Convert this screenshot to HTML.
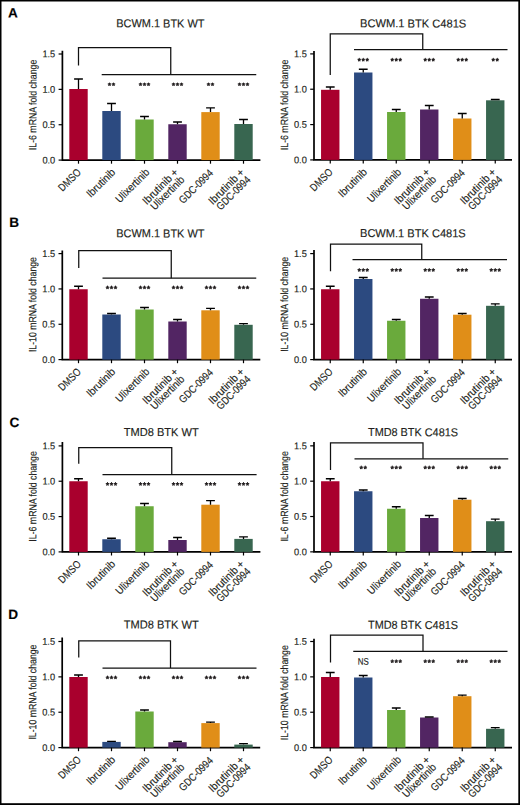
<!DOCTYPE html>
<html><head><meta charset="utf-8"><style>
html,body{margin:0;padding:0;background:#fff;}
body{width:520px;height:805px;overflow:hidden;position:relative;}
svg{position:absolute;left:0;top:0;font-family:"Liberation Sans", sans-serif;}
text{stroke:#231f20;stroke-width:0.15px;}
</style></head><body>
<svg width="520" height="805" viewBox="0 0 520 805">
<rect x="0" y="0" width="520" height="1.5" fill="#000"/><rect x="0" y="0" width="1.5" height="805" fill="#000"/><rect x="518.3" y="0" width="1.7" height="805" fill="#000"/><rect x="0" y="803.2" width="520" height="1.8" fill="#000"/>
<text transform="translate(8 17.6) rotate(0.1)" font-size="13.6" font-weight="bold" fill="#000">A</text>
<text transform="translate(116.25 27.3) rotate(0.1)" font-size="11.5" fill="#231f20" textLength="88.25" lengthAdjust="spacingAndGlyphs">BCWM.1 BTK WT</text>
<path d="M62.4 50.8V160.8M61.7 160.1H260.4" stroke="#000" stroke-width="1.7" fill="none"/>
<path d="M58.6 160.1H62.4" stroke="#000" stroke-width="1.2"/>
<text transform="translate(55.2 163.4) rotate(0.1)" font-size="9.7" fill="#231f20" text-anchor="end" textLength="12.8" lengthAdjust="spacingAndGlyphs">0.0</text>
<path d="M58.6 124.73H62.4" stroke="#000" stroke-width="1.2"/>
<text transform="translate(55.2 128.03) rotate(0.1)" font-size="9.7" fill="#231f20" text-anchor="end" textLength="12.8" lengthAdjust="spacingAndGlyphs">0.5</text>
<path d="M58.6 89.37H62.4" stroke="#000" stroke-width="1.2"/>
<text transform="translate(55.2 92.67) rotate(0.1)" font-size="9.7" fill="#231f20" text-anchor="end" textLength="12.8" lengthAdjust="spacingAndGlyphs">1.0</text>
<path d="M58.6 54H62.4" stroke="#000" stroke-width="1.2"/>
<text transform="translate(55.2 57.3) rotate(0.1)" font-size="9.7" fill="#231f20" text-anchor="end" textLength="12.8" lengthAdjust="spacingAndGlyphs">1.5</text>
<text transform="translate(36.4 104.95) rotate(-89.9)" x="0" y="0" font-size="10.5" fill="#231f20" text-anchor="middle" textLength="90.4" lengthAdjust="spacingAndGlyphs">IL-6 mRNA fold change</text>
<rect x="69.3" y="89" width="18.4" height="71.1" fill="#a9002d"/>
<path d="M78.5 89V79M74.1 79H82.9" stroke="#000" stroke-width="1.3" fill="none"/>
<path d="M78.5 160.1V163.7" stroke="#000" stroke-width="1.2"/>
<text transform="translate(81.7 173) rotate(-45)" font-size="10.8" fill="#231f20" text-anchor="end" textLength="27" lengthAdjust="spacingAndGlyphs">DMSO</text>
<rect x="102.3" y="111" width="18.4" height="49.1" fill="#2c4a80"/>
<path d="M111.5 111V103.5M107.1 103.5H115.9" stroke="#000" stroke-width="1.3" fill="none"/>
<path d="M111.5 160.1V163.7" stroke="#000" stroke-width="1.2"/>
<text transform="translate(115.9 173) rotate(-45)" font-size="10.8" fill="#231f20" text-anchor="end" textLength="35.5" lengthAdjust="spacingAndGlyphs">Ibrutinib</text>
<rect x="135.3" y="119.5" width="18.4" height="40.6" fill="#6aaa3c"/>
<path d="M144.5 119.5V116.5M140.1 116.5H148.9" stroke="#000" stroke-width="1.3" fill="none"/>
<path d="M144.5 160.1V163.7" stroke="#000" stroke-width="1.2"/>
<text transform="translate(150.2 173) rotate(-45)" font-size="10.8" fill="#231f20" text-anchor="end" textLength="43" lengthAdjust="spacingAndGlyphs">Ulixertinib</text>
<rect x="168.3" y="124.25" width="18.4" height="35.85" fill="#522563"/>
<path d="M177.5 124.25V122M173.1 122H181.9" stroke="#000" stroke-width="1.3" fill="none"/>
<path d="M177.5 160.1V163.7" stroke="#000" stroke-width="1.2"/>
<text transform="translate(179 173) rotate(-45)" font-size="10.8" fill="#231f20" text-anchor="end" textLength="45.5" lengthAdjust="spacingAndGlyphs">Ibrutinib +</text>
<text transform="translate(185.2 180.4) rotate(-45)" font-size="10.8" fill="#231f20" text-anchor="end" textLength="43" lengthAdjust="spacingAndGlyphs">Ulixertinib</text>
<rect x="201.3" y="112.1" width="18.4" height="48" fill="#e08e18"/>
<path d="M210.5 112.1V107.8M206.1 107.8H214.9" stroke="#000" stroke-width="1.3" fill="none"/>
<path d="M210.5 160.1V163.7" stroke="#000" stroke-width="1.2"/>
<text transform="translate(213.7 173.8) rotate(-45)" font-size="10.8" fill="#231f20" text-anchor="end" textLength="43" lengthAdjust="spacingAndGlyphs">GDC-0994</text>
<rect x="234.3" y="124" width="18.4" height="36.1" fill="#386650"/>
<path d="M243.5 124V119.5M239.1 119.5H247.9" stroke="#000" stroke-width="1.3" fill="none"/>
<path d="M243.5 160.1V163.7" stroke="#000" stroke-width="1.2"/>
<text transform="translate(245 173) rotate(-45)" font-size="10.8" fill="#231f20" text-anchor="end" textLength="45.5" lengthAdjust="spacingAndGlyphs">Ibrutinib +</text>
<text transform="translate(251.2 180.4) rotate(-45)" font-size="10.8" fill="#231f20" text-anchor="end" textLength="43" lengthAdjust="spacingAndGlyphs">GDC-0994</text>
<path d="M78.5 65.5V47.5H170.75V74.7" stroke="#111" stroke-width="1.25" fill="none"/>
<path d="M101.7 74.7H256.25" stroke="#111" stroke-width="1.25" fill="none"/>
<path d="M109.50 84.30L109.50 82.95M109.50 84.30L110.78 83.88M109.50 84.30L110.29 85.39M109.50 84.30L108.71 85.39M109.50 84.30L108.22 83.88" stroke="#231f20" stroke-width="1.15" stroke-linecap="round" fill="none"/>
<path d="M113.50 84.30L113.50 82.95M113.50 84.30L114.78 83.88M113.50 84.30L114.29 85.39M113.50 84.30L112.71 85.39M113.50 84.30L112.22 83.88" stroke="#231f20" stroke-width="1.15" stroke-linecap="round" fill="none"/>
<path d="M140.50 84.30L140.50 82.95M140.50 84.30L141.78 83.88M140.50 84.30L141.29 85.39M140.50 84.30L139.71 85.39M140.50 84.30L139.22 83.88" stroke="#231f20" stroke-width="1.15" stroke-linecap="round" fill="none"/>
<path d="M144.50 84.30L144.50 82.95M144.50 84.30L145.78 83.88M144.50 84.30L145.29 85.39M144.50 84.30L143.71 85.39M144.50 84.30L143.22 83.88" stroke="#231f20" stroke-width="1.15" stroke-linecap="round" fill="none"/>
<path d="M148.50 84.30L148.50 82.95M148.50 84.30L149.78 83.88M148.50 84.30L149.29 85.39M148.50 84.30L147.71 85.39M148.50 84.30L147.22 83.88" stroke="#231f20" stroke-width="1.15" stroke-linecap="round" fill="none"/>
<path d="M173.50 84.30L173.50 82.95M173.50 84.30L174.78 83.88M173.50 84.30L174.29 85.39M173.50 84.30L172.71 85.39M173.50 84.30L172.22 83.88" stroke="#231f20" stroke-width="1.15" stroke-linecap="round" fill="none"/>
<path d="M177.50 84.30L177.50 82.95M177.50 84.30L178.78 83.88M177.50 84.30L178.29 85.39M177.50 84.30L176.71 85.39M177.50 84.30L176.22 83.88" stroke="#231f20" stroke-width="1.15" stroke-linecap="round" fill="none"/>
<path d="M181.50 84.30L181.50 82.95M181.50 84.30L182.78 83.88M181.50 84.30L182.29 85.39M181.50 84.30L180.71 85.39M181.50 84.30L180.22 83.88" stroke="#231f20" stroke-width="1.15" stroke-linecap="round" fill="none"/>
<path d="M208.50 84.30L208.50 82.95M208.50 84.30L209.78 83.88M208.50 84.30L209.29 85.39M208.50 84.30L207.71 85.39M208.50 84.30L207.22 83.88" stroke="#231f20" stroke-width="1.15" stroke-linecap="round" fill="none"/>
<path d="M212.50 84.30L212.50 82.95M212.50 84.30L213.78 83.88M212.50 84.30L213.29 85.39M212.50 84.30L211.71 85.39M212.50 84.30L211.22 83.88" stroke="#231f20" stroke-width="1.15" stroke-linecap="round" fill="none"/>
<path d="M239.50 84.30L239.50 82.95M239.50 84.30L240.78 83.88M239.50 84.30L240.29 85.39M239.50 84.30L238.71 85.39M239.50 84.30L238.22 83.88" stroke="#231f20" stroke-width="1.15" stroke-linecap="round" fill="none"/>
<path d="M243.50 84.30L243.50 82.95M243.50 84.30L244.78 83.88M243.50 84.30L244.29 85.39M243.50 84.30L242.71 85.39M243.50 84.30L242.22 83.88" stroke="#231f20" stroke-width="1.15" stroke-linecap="round" fill="none"/>
<path d="M247.50 84.30L247.50 82.95M247.50 84.30L248.78 83.88M247.50 84.30L248.29 85.39M247.50 84.30L246.71 85.39M247.50 84.30L246.22 83.88" stroke="#231f20" stroke-width="1.15" stroke-linecap="round" fill="none"/>
<text transform="translate(360 27.3) rotate(0.1)" font-size="11.5" fill="#231f20" textLength="106.25" lengthAdjust="spacingAndGlyphs">BCWM.1 BTK C481S</text>
<path d="M314 51V160.6M313.3 159.9H512" stroke="#000" stroke-width="1.7" fill="none"/>
<path d="M310.2 159.9H314" stroke="#000" stroke-width="1.2"/>
<text transform="translate(306.8 163.2) rotate(0.1)" font-size="9.7" fill="#231f20" text-anchor="end" textLength="12.8" lengthAdjust="spacingAndGlyphs">0.0</text>
<path d="M310.2 124.57H314" stroke="#000" stroke-width="1.2"/>
<text transform="translate(306.8 127.87) rotate(0.1)" font-size="9.7" fill="#231f20" text-anchor="end" textLength="12.8" lengthAdjust="spacingAndGlyphs">0.5</text>
<path d="M310.2 89.23H314" stroke="#000" stroke-width="1.2"/>
<text transform="translate(306.8 92.53) rotate(0.1)" font-size="9.7" fill="#231f20" text-anchor="end" textLength="12.8" lengthAdjust="spacingAndGlyphs">1.0</text>
<path d="M310.2 53.9H314" stroke="#000" stroke-width="1.2"/>
<text transform="translate(306.8 57.2) rotate(0.1)" font-size="9.7" fill="#231f20" text-anchor="end" textLength="12.8" lengthAdjust="spacingAndGlyphs">1.5</text>
<text transform="translate(288 104.95) rotate(-89.9)" x="0" y="0" font-size="10.5" fill="#231f20" text-anchor="middle" textLength="90.4" lengthAdjust="spacingAndGlyphs">IL-6 mRNA fold change</text>
<rect x="321.05" y="89.8" width="18.4" height="70.1" fill="#a9002d"/>
<path d="M330.25 89.8V87M325.85 87H334.65" stroke="#000" stroke-width="1.3" fill="none"/>
<path d="M330.25 159.9V163.5" stroke="#000" stroke-width="1.2"/>
<text transform="translate(333.45 172.8) rotate(-45)" font-size="10.8" fill="#231f20" text-anchor="end" textLength="27" lengthAdjust="spacingAndGlyphs">DMSO</text>
<rect x="354.05" y="72.5" width="18.4" height="87.4" fill="#2c4a80"/>
<path d="M363.25 72.5V69.25M358.85 69.25H367.65" stroke="#000" stroke-width="1.3" fill="none"/>
<path d="M363.25 159.9V163.5" stroke="#000" stroke-width="1.2"/>
<text transform="translate(367.65 172.8) rotate(-45)" font-size="10.8" fill="#231f20" text-anchor="end" textLength="35.5" lengthAdjust="spacingAndGlyphs">Ibrutinib</text>
<rect x="387.05" y="112" width="18.4" height="47.9" fill="#6aaa3c"/>
<path d="M396.25 112V109.5M391.85 109.5H400.65" stroke="#000" stroke-width="1.3" fill="none"/>
<path d="M396.25 159.9V163.5" stroke="#000" stroke-width="1.2"/>
<text transform="translate(401.95 172.8) rotate(-45)" font-size="10.8" fill="#231f20" text-anchor="end" textLength="43" lengthAdjust="spacingAndGlyphs">Ulixertinib</text>
<rect x="420.05" y="109.5" width="18.4" height="50.4" fill="#522563"/>
<path d="M429.25 109.5V105.5M424.85 105.5H433.65" stroke="#000" stroke-width="1.3" fill="none"/>
<path d="M429.25 159.9V163.5" stroke="#000" stroke-width="1.2"/>
<text transform="translate(430.75 172.8) rotate(-45)" font-size="10.8" fill="#231f20" text-anchor="end" textLength="45.5" lengthAdjust="spacingAndGlyphs">Ibrutinib +</text>
<text transform="translate(436.95 180.2) rotate(-45)" font-size="10.8" fill="#231f20" text-anchor="end" textLength="43" lengthAdjust="spacingAndGlyphs">Ulixertinib</text>
<rect x="453.05" y="118.5" width="18.4" height="41.4" fill="#e08e18"/>
<path d="M462.25 118.5V113.5M457.85 113.5H466.65" stroke="#000" stroke-width="1.3" fill="none"/>
<path d="M462.25 159.9V163.5" stroke="#000" stroke-width="1.2"/>
<text transform="translate(465.45 173.6) rotate(-45)" font-size="10.8" fill="#231f20" text-anchor="end" textLength="43" lengthAdjust="spacingAndGlyphs">GDC-0994</text>
<rect x="486.05" y="100.3" width="18.4" height="59.6" fill="#386650"/>
<path d="M495.25 100.3V99.5M490.85 99.5H499.65" stroke="#000" stroke-width="1.3" fill="none"/>
<path d="M495.25 159.9V163.5" stroke="#000" stroke-width="1.2"/>
<text transform="translate(496.75 172.8) rotate(-45)" font-size="10.8" fill="#231f20" text-anchor="end" textLength="45.5" lengthAdjust="spacingAndGlyphs">Ibrutinib +</text>
<text transform="translate(502.95 180.2) rotate(-45)" font-size="10.8" fill="#231f20" text-anchor="end" textLength="43" lengthAdjust="spacingAndGlyphs">GDC-0994</text>
<path d="M330.25 75V33.75H422.75V49.5" stroke="#111" stroke-width="1.25" fill="none"/>
<path d="M354 49.5H507.5" stroke="#111" stroke-width="1.25" fill="none"/>
<path d="M359.25 59.70L359.25 58.35M359.25 59.70L360.53 59.28M359.25 59.70L360.04 60.79M359.25 59.70L358.46 60.79M359.25 59.70L357.97 59.28" stroke="#231f20" stroke-width="1.15" stroke-linecap="round" fill="none"/>
<path d="M363.25 59.70L363.25 58.35M363.25 59.70L364.53 59.28M363.25 59.70L364.04 60.79M363.25 59.70L362.46 60.79M363.25 59.70L361.97 59.28" stroke="#231f20" stroke-width="1.15" stroke-linecap="round" fill="none"/>
<path d="M367.25 59.70L367.25 58.35M367.25 59.70L368.53 59.28M367.25 59.70L368.04 60.79M367.25 59.70L366.46 60.79M367.25 59.70L365.97 59.28" stroke="#231f20" stroke-width="1.15" stroke-linecap="round" fill="none"/>
<path d="M392.25 59.70L392.25 58.35M392.25 59.70L393.53 59.28M392.25 59.70L393.04 60.79M392.25 59.70L391.46 60.79M392.25 59.70L390.97 59.28" stroke="#231f20" stroke-width="1.15" stroke-linecap="round" fill="none"/>
<path d="M396.25 59.70L396.25 58.35M396.25 59.70L397.53 59.28M396.25 59.70L397.04 60.79M396.25 59.70L395.46 60.79M396.25 59.70L394.97 59.28" stroke="#231f20" stroke-width="1.15" stroke-linecap="round" fill="none"/>
<path d="M400.25 59.70L400.25 58.35M400.25 59.70L401.53 59.28M400.25 59.70L401.04 60.79M400.25 59.70L399.46 60.79M400.25 59.70L398.97 59.28" stroke="#231f20" stroke-width="1.15" stroke-linecap="round" fill="none"/>
<path d="M425.25 59.70L425.25 58.35M425.25 59.70L426.53 59.28M425.25 59.70L426.04 60.79M425.25 59.70L424.46 60.79M425.25 59.70L423.97 59.28" stroke="#231f20" stroke-width="1.15" stroke-linecap="round" fill="none"/>
<path d="M429.25 59.70L429.25 58.35M429.25 59.70L430.53 59.28M429.25 59.70L430.04 60.79M429.25 59.70L428.46 60.79M429.25 59.70L427.97 59.28" stroke="#231f20" stroke-width="1.15" stroke-linecap="round" fill="none"/>
<path d="M433.25 59.70L433.25 58.35M433.25 59.70L434.53 59.28M433.25 59.70L434.04 60.79M433.25 59.70L432.46 60.79M433.25 59.70L431.97 59.28" stroke="#231f20" stroke-width="1.15" stroke-linecap="round" fill="none"/>
<path d="M458.25 59.70L458.25 58.35M458.25 59.70L459.53 59.28M458.25 59.70L459.04 60.79M458.25 59.70L457.46 60.79M458.25 59.70L456.97 59.28" stroke="#231f20" stroke-width="1.15" stroke-linecap="round" fill="none"/>
<path d="M462.25 59.70L462.25 58.35M462.25 59.70L463.53 59.28M462.25 59.70L463.04 60.79M462.25 59.70L461.46 60.79M462.25 59.70L460.97 59.28" stroke="#231f20" stroke-width="1.15" stroke-linecap="round" fill="none"/>
<path d="M466.25 59.70L466.25 58.35M466.25 59.70L467.53 59.28M466.25 59.70L467.04 60.79M466.25 59.70L465.46 60.79M466.25 59.70L464.97 59.28" stroke="#231f20" stroke-width="1.15" stroke-linecap="round" fill="none"/>
<path d="M493.25 59.70L493.25 58.35M493.25 59.70L494.53 59.28M493.25 59.70L494.04 60.79M493.25 59.70L492.46 60.79M493.25 59.70L491.97 59.28" stroke="#231f20" stroke-width="1.15" stroke-linecap="round" fill="none"/>
<path d="M497.25 59.70L497.25 58.35M497.25 59.70L498.53 59.28M497.25 59.70L498.04 60.79M497.25 59.70L496.46 60.79M497.25 59.70L495.97 59.28" stroke="#231f20" stroke-width="1.15" stroke-linecap="round" fill="none"/>
<text transform="translate(9.2 227.1) rotate(0.1)" font-size="13.6" font-weight="bold" fill="#000">B</text>
<text transform="translate(116.25 237.3) rotate(0.1)" font-size="11.5" fill="#231f20" textLength="88.25" lengthAdjust="spacingAndGlyphs">BCWM.1 BTK WT</text>
<path d="M62.3 250.5V360.3M61.6 359.6H260.3" stroke="#000" stroke-width="1.7" fill="none"/>
<path d="M58.5 359.6H62.3" stroke="#000" stroke-width="1.2"/>
<text transform="translate(55.1 362.9) rotate(0.1)" font-size="9.7" fill="#231f20" text-anchor="end" textLength="12.8" lengthAdjust="spacingAndGlyphs">0.0</text>
<path d="M58.5 324.27H62.3" stroke="#000" stroke-width="1.2"/>
<text transform="translate(55.1 327.57) rotate(0.1)" font-size="9.7" fill="#231f20" text-anchor="end" textLength="12.8" lengthAdjust="spacingAndGlyphs">0.5</text>
<path d="M58.5 288.93H62.3" stroke="#000" stroke-width="1.2"/>
<text transform="translate(55.1 292.23) rotate(0.1)" font-size="9.7" fill="#231f20" text-anchor="end" textLength="12.8" lengthAdjust="spacingAndGlyphs">1.0</text>
<path d="M58.5 253.6H62.3" stroke="#000" stroke-width="1.2"/>
<text transform="translate(55.1 256.9) rotate(0.1)" font-size="9.7" fill="#231f20" text-anchor="end" textLength="12.8" lengthAdjust="spacingAndGlyphs">1.5</text>
<text transform="translate(36.3 304.55) rotate(-89.9)" x="0" y="0" font-size="10.5" fill="#231f20" text-anchor="middle" textLength="95" lengthAdjust="spacingAndGlyphs">IL-10 mRNA fold change</text>
<rect x="69.3" y="289.25" width="18.4" height="70.35" fill="#a9002d"/>
<path d="M78.5 289.25V286.25M74.1 286.25H82.9" stroke="#000" stroke-width="1.3" fill="none"/>
<path d="M78.5 359.6V363.2" stroke="#000" stroke-width="1.2"/>
<text transform="translate(81.7 372.5) rotate(-45)" font-size="10.8" fill="#231f20" text-anchor="end" textLength="27" lengthAdjust="spacingAndGlyphs">DMSO</text>
<rect x="102.3" y="314.5" width="18.4" height="45.1" fill="#2c4a80"/>
<path d="M111.5 314.5V313.5M107.1 313.5H115.9" stroke="#000" stroke-width="1.3" fill="none"/>
<path d="M111.5 359.6V363.2" stroke="#000" stroke-width="1.2"/>
<text transform="translate(115.9 372.5) rotate(-45)" font-size="10.8" fill="#231f20" text-anchor="end" textLength="35.5" lengthAdjust="spacingAndGlyphs">Ibrutinib</text>
<rect x="135.3" y="309.5" width="18.4" height="50.1" fill="#6aaa3c"/>
<path d="M144.5 309.5V307.5M140.1 307.5H148.9" stroke="#000" stroke-width="1.3" fill="none"/>
<path d="M144.5 359.6V363.2" stroke="#000" stroke-width="1.2"/>
<text transform="translate(150.2 372.5) rotate(-45)" font-size="10.8" fill="#231f20" text-anchor="end" textLength="43" lengthAdjust="spacingAndGlyphs">Ulixertinib</text>
<rect x="168.3" y="321.5" width="18.4" height="38.1" fill="#522563"/>
<path d="M177.5 321.5V319.5M173.1 319.5H181.9" stroke="#000" stroke-width="1.3" fill="none"/>
<path d="M177.5 359.6V363.2" stroke="#000" stroke-width="1.2"/>
<text transform="translate(179 372.5) rotate(-45)" font-size="10.8" fill="#231f20" text-anchor="end" textLength="45.5" lengthAdjust="spacingAndGlyphs">Ibrutinib +</text>
<text transform="translate(185.2 379.9) rotate(-45)" font-size="10.8" fill="#231f20" text-anchor="end" textLength="43" lengthAdjust="spacingAndGlyphs">Ulixertinib</text>
<rect x="201.3" y="310.3" width="18.4" height="49.3" fill="#e08e18"/>
<path d="M210.5 310.3V308.3M206.1 308.3H214.9" stroke="#000" stroke-width="1.3" fill="none"/>
<path d="M210.5 359.6V363.2" stroke="#000" stroke-width="1.2"/>
<text transform="translate(213.7 373.3) rotate(-45)" font-size="10.8" fill="#231f20" text-anchor="end" textLength="43" lengthAdjust="spacingAndGlyphs">GDC-0994</text>
<rect x="234.3" y="324.8" width="18.4" height="34.8" fill="#386650"/>
<path d="M243.5 324.8V323.7M239.1 323.7H247.9" stroke="#000" stroke-width="1.3" fill="none"/>
<path d="M243.5 359.6V363.2" stroke="#000" stroke-width="1.2"/>
<text transform="translate(245 372.5) rotate(-45)" font-size="10.8" fill="#231f20" text-anchor="end" textLength="45.5" lengthAdjust="spacingAndGlyphs">Ibrutinib +</text>
<text transform="translate(251.2 379.9) rotate(-45)" font-size="10.8" fill="#231f20" text-anchor="end" textLength="43" lengthAdjust="spacingAndGlyphs">GDC-0994</text>
<path d="M78.75 268V250.6H171.25V278.2" stroke="#111" stroke-width="1.25" fill="none"/>
<path d="M102.5 278.2H256.25" stroke="#111" stroke-width="1.25" fill="none"/>
<path d="M107.50 287.50L107.50 286.15M107.50 287.50L108.78 287.08M107.50 287.50L108.29 288.59M107.50 287.50L106.71 288.59M107.50 287.50L106.22 287.08" stroke="#231f20" stroke-width="1.15" stroke-linecap="round" fill="none"/>
<path d="M111.50 287.50L111.50 286.15M111.50 287.50L112.78 287.08M111.50 287.50L112.29 288.59M111.50 287.50L110.71 288.59M111.50 287.50L110.22 287.08" stroke="#231f20" stroke-width="1.15" stroke-linecap="round" fill="none"/>
<path d="M115.50 287.50L115.50 286.15M115.50 287.50L116.78 287.08M115.50 287.50L116.29 288.59M115.50 287.50L114.71 288.59M115.50 287.50L114.22 287.08" stroke="#231f20" stroke-width="1.15" stroke-linecap="round" fill="none"/>
<path d="M140.50 287.50L140.50 286.15M140.50 287.50L141.78 287.08M140.50 287.50L141.29 288.59M140.50 287.50L139.71 288.59M140.50 287.50L139.22 287.08" stroke="#231f20" stroke-width="1.15" stroke-linecap="round" fill="none"/>
<path d="M144.50 287.50L144.50 286.15M144.50 287.50L145.78 287.08M144.50 287.50L145.29 288.59M144.50 287.50L143.71 288.59M144.50 287.50L143.22 287.08" stroke="#231f20" stroke-width="1.15" stroke-linecap="round" fill="none"/>
<path d="M148.50 287.50L148.50 286.15M148.50 287.50L149.78 287.08M148.50 287.50L149.29 288.59M148.50 287.50L147.71 288.59M148.50 287.50L147.22 287.08" stroke="#231f20" stroke-width="1.15" stroke-linecap="round" fill="none"/>
<path d="M173.50 287.50L173.50 286.15M173.50 287.50L174.78 287.08M173.50 287.50L174.29 288.59M173.50 287.50L172.71 288.59M173.50 287.50L172.22 287.08" stroke="#231f20" stroke-width="1.15" stroke-linecap="round" fill="none"/>
<path d="M177.50 287.50L177.50 286.15M177.50 287.50L178.78 287.08M177.50 287.50L178.29 288.59M177.50 287.50L176.71 288.59M177.50 287.50L176.22 287.08" stroke="#231f20" stroke-width="1.15" stroke-linecap="round" fill="none"/>
<path d="M181.50 287.50L181.50 286.15M181.50 287.50L182.78 287.08M181.50 287.50L182.29 288.59M181.50 287.50L180.71 288.59M181.50 287.50L180.22 287.08" stroke="#231f20" stroke-width="1.15" stroke-linecap="round" fill="none"/>
<path d="M206.50 287.50L206.50 286.15M206.50 287.50L207.78 287.08M206.50 287.50L207.29 288.59M206.50 287.50L205.71 288.59M206.50 287.50L205.22 287.08" stroke="#231f20" stroke-width="1.15" stroke-linecap="round" fill="none"/>
<path d="M210.50 287.50L210.50 286.15M210.50 287.50L211.78 287.08M210.50 287.50L211.29 288.59M210.50 287.50L209.71 288.59M210.50 287.50L209.22 287.08" stroke="#231f20" stroke-width="1.15" stroke-linecap="round" fill="none"/>
<path d="M214.50 287.50L214.50 286.15M214.50 287.50L215.78 287.08M214.50 287.50L215.29 288.59M214.50 287.50L213.71 288.59M214.50 287.50L213.22 287.08" stroke="#231f20" stroke-width="1.15" stroke-linecap="round" fill="none"/>
<path d="M239.50 287.50L239.50 286.15M239.50 287.50L240.78 287.08M239.50 287.50L240.29 288.59M239.50 287.50L238.71 288.59M239.50 287.50L238.22 287.08" stroke="#231f20" stroke-width="1.15" stroke-linecap="round" fill="none"/>
<path d="M243.50 287.50L243.50 286.15M243.50 287.50L244.78 287.08M243.50 287.50L244.29 288.59M243.50 287.50L242.71 288.59M243.50 287.50L242.22 287.08" stroke="#231f20" stroke-width="1.15" stroke-linecap="round" fill="none"/>
<path d="M247.50 287.50L247.50 286.15M247.50 287.50L248.78 287.08M247.50 287.50L248.29 288.59M247.50 287.50L246.71 288.59M247.50 287.50L246.22 287.08" stroke="#231f20" stroke-width="1.15" stroke-linecap="round" fill="none"/>
<text transform="translate(360 237.1) rotate(0.1)" font-size="11.5" fill="#231f20" textLength="105.75" lengthAdjust="spacingAndGlyphs">BCWM.1 BTK C481S</text>
<path d="M314 250V360.3M313.3 359.6H512" stroke="#000" stroke-width="1.7" fill="none"/>
<path d="M310.2 359.6H314" stroke="#000" stroke-width="1.2"/>
<text transform="translate(306.8 362.9) rotate(0.1)" font-size="9.7" fill="#231f20" text-anchor="end" textLength="12.8" lengthAdjust="spacingAndGlyphs">0.0</text>
<path d="M310.2 324.27H314" stroke="#000" stroke-width="1.2"/>
<text transform="translate(306.8 327.57) rotate(0.1)" font-size="9.7" fill="#231f20" text-anchor="end" textLength="12.8" lengthAdjust="spacingAndGlyphs">0.5</text>
<path d="M310.2 288.93H314" stroke="#000" stroke-width="1.2"/>
<text transform="translate(306.8 292.23) rotate(0.1)" font-size="9.7" fill="#231f20" text-anchor="end" textLength="12.8" lengthAdjust="spacingAndGlyphs">1.0</text>
<path d="M310.2 253.6H314" stroke="#000" stroke-width="1.2"/>
<text transform="translate(306.8 256.9) rotate(0.1)" font-size="9.7" fill="#231f20" text-anchor="end" textLength="12.8" lengthAdjust="spacingAndGlyphs">1.5</text>
<text transform="translate(288 304.3) rotate(-89.9)" x="0" y="0" font-size="10.5" fill="#231f20" text-anchor="middle" textLength="95" lengthAdjust="spacingAndGlyphs">IL-10 mRNA fold change</text>
<rect x="321.05" y="289.25" width="18.4" height="70.35" fill="#a9002d"/>
<path d="M330.25 289.25V286.25M325.85 286.25H334.65" stroke="#000" stroke-width="1.3" fill="none"/>
<path d="M330.25 359.6V363.2" stroke="#000" stroke-width="1.2"/>
<text transform="translate(333.45 372.5) rotate(-45)" font-size="10.8" fill="#231f20" text-anchor="end" textLength="27" lengthAdjust="spacingAndGlyphs">DMSO</text>
<rect x="354.05" y="279" width="18.4" height="80.6" fill="#2c4a80"/>
<path d="M363.25 279V277.5M358.85 277.5H367.65" stroke="#000" stroke-width="1.3" fill="none"/>
<path d="M363.25 359.6V363.2" stroke="#000" stroke-width="1.2"/>
<text transform="translate(367.65 372.5) rotate(-45)" font-size="10.8" fill="#231f20" text-anchor="end" textLength="35.5" lengthAdjust="spacingAndGlyphs">Ibrutinib</text>
<rect x="387.05" y="320.75" width="18.4" height="38.85" fill="#6aaa3c"/>
<path d="M396.25 320.75V319.5M391.85 319.5H400.65" stroke="#000" stroke-width="1.3" fill="none"/>
<path d="M396.25 359.6V363.2" stroke="#000" stroke-width="1.2"/>
<text transform="translate(401.95 372.5) rotate(-45)" font-size="10.8" fill="#231f20" text-anchor="end" textLength="43" lengthAdjust="spacingAndGlyphs">Ulixertinib</text>
<rect x="420.05" y="298.75" width="18.4" height="60.85" fill="#522563"/>
<path d="M429.25 298.75V297M424.85 297H433.65" stroke="#000" stroke-width="1.3" fill="none"/>
<path d="M429.25 359.6V363.2" stroke="#000" stroke-width="1.2"/>
<text transform="translate(430.75 372.5) rotate(-45)" font-size="10.8" fill="#231f20" text-anchor="end" textLength="45.5" lengthAdjust="spacingAndGlyphs">Ibrutinib +</text>
<text transform="translate(436.95 379.9) rotate(-45)" font-size="10.8" fill="#231f20" text-anchor="end" textLength="43" lengthAdjust="spacingAndGlyphs">Ulixertinib</text>
<rect x="453.05" y="314.7" width="18.4" height="44.9" fill="#e08e18"/>
<path d="M462.25 314.7V313.5M457.85 313.5H466.65" stroke="#000" stroke-width="1.3" fill="none"/>
<path d="M462.25 359.6V363.2" stroke="#000" stroke-width="1.2"/>
<text transform="translate(465.45 373.3) rotate(-45)" font-size="10.8" fill="#231f20" text-anchor="end" textLength="43" lengthAdjust="spacingAndGlyphs">GDC-0994</text>
<rect x="486.05" y="305.8" width="18.4" height="53.8" fill="#386650"/>
<path d="M495.25 305.8V303.9M490.85 303.9H499.65" stroke="#000" stroke-width="1.3" fill="none"/>
<path d="M495.25 359.6V363.2" stroke="#000" stroke-width="1.2"/>
<text transform="translate(496.75 372.5) rotate(-45)" font-size="10.8" fill="#231f20" text-anchor="end" textLength="45.5" lengthAdjust="spacingAndGlyphs">Ibrutinib +</text>
<text transform="translate(502.95 379.9) rotate(-45)" font-size="10.8" fill="#231f20" text-anchor="end" textLength="43" lengthAdjust="spacingAndGlyphs">GDC-0994</text>
<path d="M330.5 271.25V244H421.75V259.5" stroke="#111" stroke-width="1.25" fill="none"/>
<path d="M352.5 259.5H507" stroke="#111" stroke-width="1.25" fill="none"/>
<path d="M359.25 270.00L359.25 268.65M359.25 270.00L360.53 269.58M359.25 270.00L360.04 271.09M359.25 270.00L358.46 271.09M359.25 270.00L357.97 269.58" stroke="#231f20" stroke-width="1.15" stroke-linecap="round" fill="none"/>
<path d="M363.25 270.00L363.25 268.65M363.25 270.00L364.53 269.58M363.25 270.00L364.04 271.09M363.25 270.00L362.46 271.09M363.25 270.00L361.97 269.58" stroke="#231f20" stroke-width="1.15" stroke-linecap="round" fill="none"/>
<path d="M367.25 270.00L367.25 268.65M367.25 270.00L368.53 269.58M367.25 270.00L368.04 271.09M367.25 270.00L366.46 271.09M367.25 270.00L365.97 269.58" stroke="#231f20" stroke-width="1.15" stroke-linecap="round" fill="none"/>
<path d="M392.25 270.00L392.25 268.65M392.25 270.00L393.53 269.58M392.25 270.00L393.04 271.09M392.25 270.00L391.46 271.09M392.25 270.00L390.97 269.58" stroke="#231f20" stroke-width="1.15" stroke-linecap="round" fill="none"/>
<path d="M396.25 270.00L396.25 268.65M396.25 270.00L397.53 269.58M396.25 270.00L397.04 271.09M396.25 270.00L395.46 271.09M396.25 270.00L394.97 269.58" stroke="#231f20" stroke-width="1.15" stroke-linecap="round" fill="none"/>
<path d="M400.25 270.00L400.25 268.65M400.25 270.00L401.53 269.58M400.25 270.00L401.04 271.09M400.25 270.00L399.46 271.09M400.25 270.00L398.97 269.58" stroke="#231f20" stroke-width="1.15" stroke-linecap="round" fill="none"/>
<path d="M425.25 270.00L425.25 268.65M425.25 270.00L426.53 269.58M425.25 270.00L426.04 271.09M425.25 270.00L424.46 271.09M425.25 270.00L423.97 269.58" stroke="#231f20" stroke-width="1.15" stroke-linecap="round" fill="none"/>
<path d="M429.25 270.00L429.25 268.65M429.25 270.00L430.53 269.58M429.25 270.00L430.04 271.09M429.25 270.00L428.46 271.09M429.25 270.00L427.97 269.58" stroke="#231f20" stroke-width="1.15" stroke-linecap="round" fill="none"/>
<path d="M433.25 270.00L433.25 268.65M433.25 270.00L434.53 269.58M433.25 270.00L434.04 271.09M433.25 270.00L432.46 271.09M433.25 270.00L431.97 269.58" stroke="#231f20" stroke-width="1.15" stroke-linecap="round" fill="none"/>
<path d="M458.25 270.00L458.25 268.65M458.25 270.00L459.53 269.58M458.25 270.00L459.04 271.09M458.25 270.00L457.46 271.09M458.25 270.00L456.97 269.58" stroke="#231f20" stroke-width="1.15" stroke-linecap="round" fill="none"/>
<path d="M462.25 270.00L462.25 268.65M462.25 270.00L463.53 269.58M462.25 270.00L463.04 271.09M462.25 270.00L461.46 271.09M462.25 270.00L460.97 269.58" stroke="#231f20" stroke-width="1.15" stroke-linecap="round" fill="none"/>
<path d="M466.25 270.00L466.25 268.65M466.25 270.00L467.53 269.58M466.25 270.00L467.04 271.09M466.25 270.00L465.46 271.09M466.25 270.00L464.97 269.58" stroke="#231f20" stroke-width="1.15" stroke-linecap="round" fill="none"/>
<path d="M491.25 270.00L491.25 268.65M491.25 270.00L492.53 269.58M491.25 270.00L492.04 271.09M491.25 270.00L490.46 271.09M491.25 270.00L489.97 269.58" stroke="#231f20" stroke-width="1.15" stroke-linecap="round" fill="none"/>
<path d="M495.25 270.00L495.25 268.65M495.25 270.00L496.53 269.58M495.25 270.00L496.04 271.09M495.25 270.00L494.46 271.09M495.25 270.00L493.97 269.58" stroke="#231f20" stroke-width="1.15" stroke-linecap="round" fill="none"/>
<path d="M499.25 270.00L499.25 268.65M499.25 270.00L500.53 269.58M499.25 270.00L500.04 271.09M499.25 270.00L498.46 271.09M499.25 270.00L497.97 269.58" stroke="#231f20" stroke-width="1.15" stroke-linecap="round" fill="none"/>
<text transform="translate(9.5 427.1) rotate(0.1)" font-size="13.6" font-weight="bold" fill="#000">C</text>
<text transform="translate(123.75 436.05) rotate(0.1)" font-size="11.5" fill="#231f20" textLength="75" lengthAdjust="spacingAndGlyphs">TMD8 BTK WT</text>
<path d="M62.4 442V552.6M61.7 551.9H260.4" stroke="#000" stroke-width="1.7" fill="none"/>
<path d="M58.6 551.9H62.4" stroke="#000" stroke-width="1.2"/>
<text transform="translate(55.2 555.2) rotate(0.1)" font-size="9.7" fill="#231f20" text-anchor="end" textLength="12.8" lengthAdjust="spacingAndGlyphs">0.0</text>
<path d="M58.6 516.57H62.4" stroke="#000" stroke-width="1.2"/>
<text transform="translate(55.2 519.87) rotate(0.1)" font-size="9.7" fill="#231f20" text-anchor="end" textLength="12.8" lengthAdjust="spacingAndGlyphs">0.5</text>
<path d="M58.6 481.23H62.4" stroke="#000" stroke-width="1.2"/>
<text transform="translate(55.2 484.53) rotate(0.1)" font-size="9.7" fill="#231f20" text-anchor="end" textLength="12.8" lengthAdjust="spacingAndGlyphs">1.0</text>
<path d="M58.6 445.9H62.4" stroke="#000" stroke-width="1.2"/>
<text transform="translate(55.2 449.2) rotate(0.1)" font-size="9.7" fill="#231f20" text-anchor="end" textLength="12.8" lengthAdjust="spacingAndGlyphs">1.5</text>
<text transform="translate(36.4 496.45) rotate(-89.9)" x="0" y="0" font-size="10.5" fill="#231f20" text-anchor="middle" textLength="90.4" lengthAdjust="spacingAndGlyphs">IL-6 mRNA fold change</text>
<rect x="69.3" y="481.25" width="18.4" height="70.65" fill="#a9002d"/>
<path d="M78.5 481.25V478.75M74.1 478.75H82.9" stroke="#000" stroke-width="1.3" fill="none"/>
<path d="M78.5 551.9V555.5" stroke="#000" stroke-width="1.2"/>
<text transform="translate(81.7 564.8) rotate(-45)" font-size="10.8" fill="#231f20" text-anchor="end" textLength="27" lengthAdjust="spacingAndGlyphs">DMSO</text>
<rect x="102.3" y="539.25" width="18.4" height="12.65" fill="#2c4a80"/>
<path d="M111.5 539.25V538.25M107.1 538.25H115.9" stroke="#000" stroke-width="1.3" fill="none"/>
<path d="M111.5 551.9V555.5" stroke="#000" stroke-width="1.2"/>
<text transform="translate(115.9 564.8) rotate(-45)" font-size="10.8" fill="#231f20" text-anchor="end" textLength="35.5" lengthAdjust="spacingAndGlyphs">Ibrutinib</text>
<rect x="135.3" y="506.25" width="18.4" height="45.65" fill="#6aaa3c"/>
<path d="M144.5 506.25V503.5M140.1 503.5H148.9" stroke="#000" stroke-width="1.3" fill="none"/>
<path d="M144.5 551.9V555.5" stroke="#000" stroke-width="1.2"/>
<text transform="translate(150.2 564.8) rotate(-45)" font-size="10.8" fill="#231f20" text-anchor="end" textLength="43" lengthAdjust="spacingAndGlyphs">Ulixertinib</text>
<rect x="168.3" y="540" width="18.4" height="11.9" fill="#522563"/>
<path d="M177.5 540V537.5M173.1 537.5H181.9" stroke="#000" stroke-width="1.3" fill="none"/>
<path d="M177.5 551.9V555.5" stroke="#000" stroke-width="1.2"/>
<text transform="translate(179 564.8) rotate(-45)" font-size="10.8" fill="#231f20" text-anchor="end" textLength="45.5" lengthAdjust="spacingAndGlyphs">Ibrutinib +</text>
<text transform="translate(185.2 572.2) rotate(-45)" font-size="10.8" fill="#231f20" text-anchor="end" textLength="43" lengthAdjust="spacingAndGlyphs">Ulixertinib</text>
<rect x="201.3" y="504.7" width="18.4" height="47.2" fill="#e08e18"/>
<path d="M210.5 504.7V500.7M206.1 500.7H214.9" stroke="#000" stroke-width="1.3" fill="none"/>
<path d="M210.5 551.9V555.5" stroke="#000" stroke-width="1.2"/>
<text transform="translate(213.7 565.6) rotate(-45)" font-size="10.8" fill="#231f20" text-anchor="end" textLength="43" lengthAdjust="spacingAndGlyphs">GDC-0994</text>
<rect x="234.3" y="538.9" width="18.4" height="13" fill="#386650"/>
<path d="M243.5 538.9V536.9M239.1 536.9H247.9" stroke="#000" stroke-width="1.3" fill="none"/>
<path d="M243.5 551.9V555.5" stroke="#000" stroke-width="1.2"/>
<text transform="translate(245 564.8) rotate(-45)" font-size="10.8" fill="#231f20" text-anchor="end" textLength="45.5" lengthAdjust="spacingAndGlyphs">Ibrutinib +</text>
<text transform="translate(251.2 572.2) rotate(-45)" font-size="10.8" fill="#231f20" text-anchor="end" textLength="43" lengthAdjust="spacingAndGlyphs">GDC-0994</text>
<path d="M78.75 463.75V447.5H171.75V474.5" stroke="#111" stroke-width="1.25" fill="none"/>
<path d="M102.5 474.5H256.6" stroke="#111" stroke-width="1.25" fill="none"/>
<path d="M107.50 484.00L107.50 482.65M107.50 484.00L108.78 483.58M107.50 484.00L108.29 485.09M107.50 484.00L106.71 485.09M107.50 484.00L106.22 483.58" stroke="#231f20" stroke-width="1.15" stroke-linecap="round" fill="none"/>
<path d="M111.50 484.00L111.50 482.65M111.50 484.00L112.78 483.58M111.50 484.00L112.29 485.09M111.50 484.00L110.71 485.09M111.50 484.00L110.22 483.58" stroke="#231f20" stroke-width="1.15" stroke-linecap="round" fill="none"/>
<path d="M115.50 484.00L115.50 482.65M115.50 484.00L116.78 483.58M115.50 484.00L116.29 485.09M115.50 484.00L114.71 485.09M115.50 484.00L114.22 483.58" stroke="#231f20" stroke-width="1.15" stroke-linecap="round" fill="none"/>
<path d="M140.50 484.00L140.50 482.65M140.50 484.00L141.78 483.58M140.50 484.00L141.29 485.09M140.50 484.00L139.71 485.09M140.50 484.00L139.22 483.58" stroke="#231f20" stroke-width="1.15" stroke-linecap="round" fill="none"/>
<path d="M144.50 484.00L144.50 482.65M144.50 484.00L145.78 483.58M144.50 484.00L145.29 485.09M144.50 484.00L143.71 485.09M144.50 484.00L143.22 483.58" stroke="#231f20" stroke-width="1.15" stroke-linecap="round" fill="none"/>
<path d="M148.50 484.00L148.50 482.65M148.50 484.00L149.78 483.58M148.50 484.00L149.29 485.09M148.50 484.00L147.71 485.09M148.50 484.00L147.22 483.58" stroke="#231f20" stroke-width="1.15" stroke-linecap="round" fill="none"/>
<path d="M173.50 484.00L173.50 482.65M173.50 484.00L174.78 483.58M173.50 484.00L174.29 485.09M173.50 484.00L172.71 485.09M173.50 484.00L172.22 483.58" stroke="#231f20" stroke-width="1.15" stroke-linecap="round" fill="none"/>
<path d="M177.50 484.00L177.50 482.65M177.50 484.00L178.78 483.58M177.50 484.00L178.29 485.09M177.50 484.00L176.71 485.09M177.50 484.00L176.22 483.58" stroke="#231f20" stroke-width="1.15" stroke-linecap="round" fill="none"/>
<path d="M181.50 484.00L181.50 482.65M181.50 484.00L182.78 483.58M181.50 484.00L182.29 485.09M181.50 484.00L180.71 485.09M181.50 484.00L180.22 483.58" stroke="#231f20" stroke-width="1.15" stroke-linecap="round" fill="none"/>
<path d="M206.50 484.00L206.50 482.65M206.50 484.00L207.78 483.58M206.50 484.00L207.29 485.09M206.50 484.00L205.71 485.09M206.50 484.00L205.22 483.58" stroke="#231f20" stroke-width="1.15" stroke-linecap="round" fill="none"/>
<path d="M210.50 484.00L210.50 482.65M210.50 484.00L211.78 483.58M210.50 484.00L211.29 485.09M210.50 484.00L209.71 485.09M210.50 484.00L209.22 483.58" stroke="#231f20" stroke-width="1.15" stroke-linecap="round" fill="none"/>
<path d="M214.50 484.00L214.50 482.65M214.50 484.00L215.78 483.58M214.50 484.00L215.29 485.09M214.50 484.00L213.71 485.09M214.50 484.00L213.22 483.58" stroke="#231f20" stroke-width="1.15" stroke-linecap="round" fill="none"/>
<path d="M239.50 484.00L239.50 482.65M239.50 484.00L240.78 483.58M239.50 484.00L240.29 485.09M239.50 484.00L238.71 485.09M239.50 484.00L238.22 483.58" stroke="#231f20" stroke-width="1.15" stroke-linecap="round" fill="none"/>
<path d="M243.50 484.00L243.50 482.65M243.50 484.00L244.78 483.58M243.50 484.00L244.29 485.09M243.50 484.00L242.71 485.09M243.50 484.00L242.22 483.58" stroke="#231f20" stroke-width="1.15" stroke-linecap="round" fill="none"/>
<path d="M247.50 484.00L247.50 482.65M247.50 484.00L248.78 483.58M247.50 484.00L248.29 485.09M247.50 484.00L246.71 485.09M247.50 484.00L246.22 483.58" stroke="#231f20" stroke-width="1.15" stroke-linecap="round" fill="none"/>
<text transform="translate(368 436.05) rotate(0.1)" font-size="11.5" fill="#231f20" textLength="90" lengthAdjust="spacingAndGlyphs">TMD8 BTK C481S</text>
<path d="M314 442V552.55M313.3 551.85H512" stroke="#000" stroke-width="1.7" fill="none"/>
<path d="M310.2 551.85H314" stroke="#000" stroke-width="1.2"/>
<text transform="translate(306.8 555.15) rotate(0.1)" font-size="9.7" fill="#231f20" text-anchor="end" textLength="12.8" lengthAdjust="spacingAndGlyphs">0.0</text>
<path d="M310.2 516.52H314" stroke="#000" stroke-width="1.2"/>
<text transform="translate(306.8 519.82) rotate(0.1)" font-size="9.7" fill="#231f20" text-anchor="end" textLength="12.8" lengthAdjust="spacingAndGlyphs">0.5</text>
<path d="M310.2 481.18H314" stroke="#000" stroke-width="1.2"/>
<text transform="translate(306.8 484.48) rotate(0.1)" font-size="9.7" fill="#231f20" text-anchor="end" textLength="12.8" lengthAdjust="spacingAndGlyphs">1.0</text>
<path d="M310.2 445.85H314" stroke="#000" stroke-width="1.2"/>
<text transform="translate(306.8 449.15) rotate(0.1)" font-size="9.7" fill="#231f20" text-anchor="end" textLength="12.8" lengthAdjust="spacingAndGlyphs">1.5</text>
<text transform="translate(288 496.43) rotate(-89.9)" x="0" y="0" font-size="10.5" fill="#231f20" text-anchor="middle" textLength="90.4" lengthAdjust="spacingAndGlyphs">IL-6 mRNA fold change</text>
<rect x="321.05" y="481.25" width="18.4" height="70.6" fill="#a9002d"/>
<path d="M330.25 481.25V478.75M325.85 478.75H334.65" stroke="#000" stroke-width="1.3" fill="none"/>
<path d="M330.25 551.85V555.45" stroke="#000" stroke-width="1.2"/>
<text transform="translate(333.45 564.75) rotate(-45)" font-size="10.8" fill="#231f20" text-anchor="end" textLength="27" lengthAdjust="spacingAndGlyphs">DMSO</text>
<rect x="354.05" y="491.25" width="18.4" height="60.6" fill="#2c4a80"/>
<path d="M363.25 491.25V490M358.85 490H367.65" stroke="#000" stroke-width="1.3" fill="none"/>
<path d="M363.25 551.85V555.45" stroke="#000" stroke-width="1.2"/>
<text transform="translate(367.65 564.75) rotate(-45)" font-size="10.8" fill="#231f20" text-anchor="end" textLength="35.5" lengthAdjust="spacingAndGlyphs">Ibrutinib</text>
<rect x="387.05" y="508.75" width="18.4" height="43.1" fill="#6aaa3c"/>
<path d="M396.25 508.75V506.75M391.85 506.75H400.65" stroke="#000" stroke-width="1.3" fill="none"/>
<path d="M396.25 551.85V555.45" stroke="#000" stroke-width="1.2"/>
<text transform="translate(401.95 564.75) rotate(-45)" font-size="10.8" fill="#231f20" text-anchor="end" textLength="43" lengthAdjust="spacingAndGlyphs">Ulixertinib</text>
<rect x="420.05" y="518" width="18.4" height="33.85" fill="#522563"/>
<path d="M429.25 518V515.5M424.85 515.5H433.65" stroke="#000" stroke-width="1.3" fill="none"/>
<path d="M429.25 551.85V555.45" stroke="#000" stroke-width="1.2"/>
<text transform="translate(430.75 564.75) rotate(-45)" font-size="10.8" fill="#231f20" text-anchor="end" textLength="45.5" lengthAdjust="spacingAndGlyphs">Ibrutinib +</text>
<text transform="translate(436.95 572.15) rotate(-45)" font-size="10.8" fill="#231f20" text-anchor="end" textLength="43" lengthAdjust="spacingAndGlyphs">Ulixertinib</text>
<rect x="453.05" y="499.7" width="18.4" height="52.15" fill="#e08e18"/>
<path d="M462.25 499.7V498.5M457.85 498.5H466.65" stroke="#000" stroke-width="1.3" fill="none"/>
<path d="M462.25 551.85V555.45" stroke="#000" stroke-width="1.2"/>
<text transform="translate(465.45 565.55) rotate(-45)" font-size="10.8" fill="#231f20" text-anchor="end" textLength="43" lengthAdjust="spacingAndGlyphs">GDC-0994</text>
<rect x="486.05" y="521.2" width="18.4" height="30.65" fill="#386650"/>
<path d="M495.25 521.2V519.2M490.85 519.2H499.65" stroke="#000" stroke-width="1.3" fill="none"/>
<path d="M495.25 551.85V555.45" stroke="#000" stroke-width="1.2"/>
<text transform="translate(496.75 564.75) rotate(-45)" font-size="10.8" fill="#231f20" text-anchor="end" textLength="45.5" lengthAdjust="spacingAndGlyphs">Ibrutinib +</text>
<text transform="translate(502.95 572.15) rotate(-45)" font-size="10.8" fill="#231f20" text-anchor="end" textLength="43" lengthAdjust="spacingAndGlyphs">GDC-0994</text>
<path d="M330.5 470V442.75H423V458.75" stroke="#111" stroke-width="1.25" fill="none"/>
<path d="M354.5 458.75H508.25" stroke="#111" stroke-width="1.25" fill="none"/>
<path d="M361.25 467.50L361.25 466.15M361.25 467.50L362.53 467.08M361.25 467.50L362.04 468.59M361.25 467.50L360.46 468.59M361.25 467.50L359.97 467.08" stroke="#231f20" stroke-width="1.15" stroke-linecap="round" fill="none"/>
<path d="M365.25 467.50L365.25 466.15M365.25 467.50L366.53 467.08M365.25 467.50L366.04 468.59M365.25 467.50L364.46 468.59M365.25 467.50L363.97 467.08" stroke="#231f20" stroke-width="1.15" stroke-linecap="round" fill="none"/>
<path d="M392.25 467.50L392.25 466.15M392.25 467.50L393.53 467.08M392.25 467.50L393.04 468.59M392.25 467.50L391.46 468.59M392.25 467.50L390.97 467.08" stroke="#231f20" stroke-width="1.15" stroke-linecap="round" fill="none"/>
<path d="M396.25 467.50L396.25 466.15M396.25 467.50L397.53 467.08M396.25 467.50L397.04 468.59M396.25 467.50L395.46 468.59M396.25 467.50L394.97 467.08" stroke="#231f20" stroke-width="1.15" stroke-linecap="round" fill="none"/>
<path d="M400.25 467.50L400.25 466.15M400.25 467.50L401.53 467.08M400.25 467.50L401.04 468.59M400.25 467.50L399.46 468.59M400.25 467.50L398.97 467.08" stroke="#231f20" stroke-width="1.15" stroke-linecap="round" fill="none"/>
<path d="M425.25 467.50L425.25 466.15M425.25 467.50L426.53 467.08M425.25 467.50L426.04 468.59M425.25 467.50L424.46 468.59M425.25 467.50L423.97 467.08" stroke="#231f20" stroke-width="1.15" stroke-linecap="round" fill="none"/>
<path d="M429.25 467.50L429.25 466.15M429.25 467.50L430.53 467.08M429.25 467.50L430.04 468.59M429.25 467.50L428.46 468.59M429.25 467.50L427.97 467.08" stroke="#231f20" stroke-width="1.15" stroke-linecap="round" fill="none"/>
<path d="M433.25 467.50L433.25 466.15M433.25 467.50L434.53 467.08M433.25 467.50L434.04 468.59M433.25 467.50L432.46 468.59M433.25 467.50L431.97 467.08" stroke="#231f20" stroke-width="1.15" stroke-linecap="round" fill="none"/>
<path d="M458.25 467.50L458.25 466.15M458.25 467.50L459.53 467.08M458.25 467.50L459.04 468.59M458.25 467.50L457.46 468.59M458.25 467.50L456.97 467.08" stroke="#231f20" stroke-width="1.15" stroke-linecap="round" fill="none"/>
<path d="M462.25 467.50L462.25 466.15M462.25 467.50L463.53 467.08M462.25 467.50L463.04 468.59M462.25 467.50L461.46 468.59M462.25 467.50L460.97 467.08" stroke="#231f20" stroke-width="1.15" stroke-linecap="round" fill="none"/>
<path d="M466.25 467.50L466.25 466.15M466.25 467.50L467.53 467.08M466.25 467.50L467.04 468.59M466.25 467.50L465.46 468.59M466.25 467.50L464.97 467.08" stroke="#231f20" stroke-width="1.15" stroke-linecap="round" fill="none"/>
<path d="M491.25 467.50L491.25 466.15M491.25 467.50L492.53 467.08M491.25 467.50L492.04 468.59M491.25 467.50L490.46 468.59M491.25 467.50L489.97 467.08" stroke="#231f20" stroke-width="1.15" stroke-linecap="round" fill="none"/>
<path d="M495.25 467.50L495.25 466.15M495.25 467.50L496.53 467.08M495.25 467.50L496.04 468.59M495.25 467.50L494.46 468.59M495.25 467.50L493.97 467.08" stroke="#231f20" stroke-width="1.15" stroke-linecap="round" fill="none"/>
<path d="M499.25 467.50L499.25 466.15M499.25 467.50L500.53 467.08M499.25 467.50L500.04 468.59M499.25 467.50L498.46 468.59M499.25 467.50L497.97 467.08" stroke="#231f20" stroke-width="1.15" stroke-linecap="round" fill="none"/>
<text transform="translate(8.2 619.1) rotate(0.1)" font-size="13.6" font-weight="bold" fill="#000">D</text>
<text transform="translate(123.75 628.55) rotate(0.1)" font-size="11.5" fill="#231f20" textLength="75" lengthAdjust="spacingAndGlyphs">TMD8 BTK WT</text>
<path d="M62.2 637.5V748.3M61.5 747.6H260.2" stroke="#000" stroke-width="1.7" fill="none"/>
<path d="M58.4 747.6H62.2" stroke="#000" stroke-width="1.2"/>
<text transform="translate(55 750.9) rotate(0.1)" font-size="9.7" fill="#231f20" text-anchor="end" textLength="12.8" lengthAdjust="spacingAndGlyphs">0.0</text>
<path d="M58.4 712.23H62.2" stroke="#000" stroke-width="1.2"/>
<text transform="translate(55 715.53) rotate(0.1)" font-size="9.7" fill="#231f20" text-anchor="end" textLength="12.8" lengthAdjust="spacingAndGlyphs">0.5</text>
<path d="M58.4 676.87H62.2" stroke="#000" stroke-width="1.2"/>
<text transform="translate(55 680.17) rotate(0.1)" font-size="9.7" fill="#231f20" text-anchor="end" textLength="12.8" lengthAdjust="spacingAndGlyphs">1.0</text>
<path d="M58.4 641.5H62.2" stroke="#000" stroke-width="1.2"/>
<text transform="translate(55 644.8) rotate(0.1)" font-size="9.7" fill="#231f20" text-anchor="end" textLength="12.8" lengthAdjust="spacingAndGlyphs">1.5</text>
<text transform="translate(36.2 692.05) rotate(-89.9)" x="0" y="0" font-size="10.5" fill="#231f20" text-anchor="middle" textLength="95" lengthAdjust="spacingAndGlyphs">IL-10 mRNA fold change</text>
<rect x="69.3" y="677" width="18.4" height="70.6" fill="#a9002d"/>
<path d="M78.5 677V675M74.1 675H82.9" stroke="#000" stroke-width="1.3" fill="none"/>
<path d="M78.5 747.6V751.2" stroke="#000" stroke-width="1.2"/>
<text transform="translate(81.7 760.5) rotate(-45)" font-size="10.8" fill="#231f20" text-anchor="end" textLength="27" lengthAdjust="spacingAndGlyphs">DMSO</text>
<rect x="102.3" y="741.9" width="18.4" height="5.7" fill="#2c4a80"/>
<path d="M111.5 741.9V741.3M107.1 741.3H115.9" stroke="#000" stroke-width="1.3" fill="none"/>
<path d="M111.5 747.6V751.2" stroke="#000" stroke-width="1.2"/>
<text transform="translate(115.9 760.5) rotate(-45)" font-size="10.8" fill="#231f20" text-anchor="end" textLength="35.5" lengthAdjust="spacingAndGlyphs">Ibrutinib</text>
<rect x="135.3" y="711.5" width="18.4" height="36.1" fill="#6aaa3c"/>
<path d="M144.5 711.5V710M140.1 710H148.9" stroke="#000" stroke-width="1.3" fill="none"/>
<path d="M144.5 747.6V751.2" stroke="#000" stroke-width="1.2"/>
<text transform="translate(150.2 760.5) rotate(-45)" font-size="10.8" fill="#231f20" text-anchor="end" textLength="43" lengthAdjust="spacingAndGlyphs">Ulixertinib</text>
<rect x="168.3" y="742.2" width="18.4" height="5.4" fill="#522563"/>
<path d="M177.5 742.2V741.5M173.1 741.5H181.9" stroke="#000" stroke-width="1.3" fill="none"/>
<path d="M177.5 747.6V751.2" stroke="#000" stroke-width="1.2"/>
<text transform="translate(179 760.5) rotate(-45)" font-size="10.8" fill="#231f20" text-anchor="end" textLength="45.5" lengthAdjust="spacingAndGlyphs">Ibrutinib +</text>
<text transform="translate(185.2 767.9) rotate(-45)" font-size="10.8" fill="#231f20" text-anchor="end" textLength="43" lengthAdjust="spacingAndGlyphs">Ulixertinib</text>
<rect x="201.3" y="723.1" width="18.4" height="24.5" fill="#e08e18"/>
<path d="M210.5 723.1V722.2M206.1 722.2H214.9" stroke="#000" stroke-width="1.3" fill="none"/>
<path d="M210.5 747.6V751.2" stroke="#000" stroke-width="1.2"/>
<text transform="translate(213.7 761.3) rotate(-45)" font-size="10.8" fill="#231f20" text-anchor="end" textLength="43" lengthAdjust="spacingAndGlyphs">GDC-0994</text>
<rect x="234.3" y="744.6" width="18.4" height="3" fill="#386650"/>
<path d="M243.5 744.6V743.6M239.1 743.6H247.9" stroke="#000" stroke-width="1.3" fill="none"/>
<path d="M243.5 747.6V751.2" stroke="#000" stroke-width="1.2"/>
<text transform="translate(245 760.5) rotate(-45)" font-size="10.8" fill="#231f20" text-anchor="end" textLength="45.5" lengthAdjust="spacingAndGlyphs">Ibrutinib +</text>
<text transform="translate(251.2 767.9) rotate(-45)" font-size="10.8" fill="#231f20" text-anchor="end" textLength="43" lengthAdjust="spacingAndGlyphs">GDC-0994</text>
<path d="M78.75 657.5V640.75H170.5V668" stroke="#111" stroke-width="1.25" fill="none"/>
<path d="M102.5 668H256.5" stroke="#111" stroke-width="1.25" fill="none"/>
<path d="M107.50 677.50L107.50 676.15M107.50 677.50L108.78 677.08M107.50 677.50L108.29 678.59M107.50 677.50L106.71 678.59M107.50 677.50L106.22 677.08" stroke="#231f20" stroke-width="1.15" stroke-linecap="round" fill="none"/>
<path d="M111.50 677.50L111.50 676.15M111.50 677.50L112.78 677.08M111.50 677.50L112.29 678.59M111.50 677.50L110.71 678.59M111.50 677.50L110.22 677.08" stroke="#231f20" stroke-width="1.15" stroke-linecap="round" fill="none"/>
<path d="M115.50 677.50L115.50 676.15M115.50 677.50L116.78 677.08M115.50 677.50L116.29 678.59M115.50 677.50L114.71 678.59M115.50 677.50L114.22 677.08" stroke="#231f20" stroke-width="1.15" stroke-linecap="round" fill="none"/>
<path d="M140.50 677.50L140.50 676.15M140.50 677.50L141.78 677.08M140.50 677.50L141.29 678.59M140.50 677.50L139.71 678.59M140.50 677.50L139.22 677.08" stroke="#231f20" stroke-width="1.15" stroke-linecap="round" fill="none"/>
<path d="M144.50 677.50L144.50 676.15M144.50 677.50L145.78 677.08M144.50 677.50L145.29 678.59M144.50 677.50L143.71 678.59M144.50 677.50L143.22 677.08" stroke="#231f20" stroke-width="1.15" stroke-linecap="round" fill="none"/>
<path d="M148.50 677.50L148.50 676.15M148.50 677.50L149.78 677.08M148.50 677.50L149.29 678.59M148.50 677.50L147.71 678.59M148.50 677.50L147.22 677.08" stroke="#231f20" stroke-width="1.15" stroke-linecap="round" fill="none"/>
<path d="M173.50 677.50L173.50 676.15M173.50 677.50L174.78 677.08M173.50 677.50L174.29 678.59M173.50 677.50L172.71 678.59M173.50 677.50L172.22 677.08" stroke="#231f20" stroke-width="1.15" stroke-linecap="round" fill="none"/>
<path d="M177.50 677.50L177.50 676.15M177.50 677.50L178.78 677.08M177.50 677.50L178.29 678.59M177.50 677.50L176.71 678.59M177.50 677.50L176.22 677.08" stroke="#231f20" stroke-width="1.15" stroke-linecap="round" fill="none"/>
<path d="M181.50 677.50L181.50 676.15M181.50 677.50L182.78 677.08M181.50 677.50L182.29 678.59M181.50 677.50L180.71 678.59M181.50 677.50L180.22 677.08" stroke="#231f20" stroke-width="1.15" stroke-linecap="round" fill="none"/>
<path d="M206.50 677.50L206.50 676.15M206.50 677.50L207.78 677.08M206.50 677.50L207.29 678.59M206.50 677.50L205.71 678.59M206.50 677.50L205.22 677.08" stroke="#231f20" stroke-width="1.15" stroke-linecap="round" fill="none"/>
<path d="M210.50 677.50L210.50 676.15M210.50 677.50L211.78 677.08M210.50 677.50L211.29 678.59M210.50 677.50L209.71 678.59M210.50 677.50L209.22 677.08" stroke="#231f20" stroke-width="1.15" stroke-linecap="round" fill="none"/>
<path d="M214.50 677.50L214.50 676.15M214.50 677.50L215.78 677.08M214.50 677.50L215.29 678.59M214.50 677.50L213.71 678.59M214.50 677.50L213.22 677.08" stroke="#231f20" stroke-width="1.15" stroke-linecap="round" fill="none"/>
<path d="M239.50 677.50L239.50 676.15M239.50 677.50L240.78 677.08M239.50 677.50L240.29 678.59M239.50 677.50L238.71 678.59M239.50 677.50L238.22 677.08" stroke="#231f20" stroke-width="1.15" stroke-linecap="round" fill="none"/>
<path d="M243.50 677.50L243.50 676.15M243.50 677.50L244.78 677.08M243.50 677.50L244.29 678.59M243.50 677.50L242.71 678.59M243.50 677.50L242.22 677.08" stroke="#231f20" stroke-width="1.15" stroke-linecap="round" fill="none"/>
<path d="M247.50 677.50L247.50 676.15M247.50 677.50L248.78 677.08M247.50 677.50L248.29 678.59M247.50 677.50L246.71 678.59M247.50 677.50L246.22 677.08" stroke="#231f20" stroke-width="1.15" stroke-linecap="round" fill="none"/>
<text transform="translate(368 628.8) rotate(0.1)" font-size="11.5" fill="#231f20" textLength="90" lengthAdjust="spacingAndGlyphs">TMD8 BTK C481S</text>
<path d="M314 638.75V748.3M313.3 747.6H512" stroke="#000" stroke-width="1.7" fill="none"/>
<path d="M310.2 747.6H314" stroke="#000" stroke-width="1.2"/>
<text transform="translate(306.8 750.9) rotate(0.1)" font-size="9.7" fill="#231f20" text-anchor="end" textLength="12.8" lengthAdjust="spacingAndGlyphs">0.0</text>
<path d="M310.2 712.23H314" stroke="#000" stroke-width="1.2"/>
<text transform="translate(306.8 715.53) rotate(0.1)" font-size="9.7" fill="#231f20" text-anchor="end" textLength="12.8" lengthAdjust="spacingAndGlyphs">0.5</text>
<path d="M310.2 676.87H314" stroke="#000" stroke-width="1.2"/>
<text transform="translate(306.8 680.17) rotate(0.1)" font-size="9.7" fill="#231f20" text-anchor="end" textLength="12.8" lengthAdjust="spacingAndGlyphs">1.0</text>
<path d="M310.2 641.5H314" stroke="#000" stroke-width="1.2"/>
<text transform="translate(306.8 644.8) rotate(0.1)" font-size="9.7" fill="#231f20" text-anchor="end" textLength="12.8" lengthAdjust="spacingAndGlyphs">1.5</text>
<text transform="translate(288 692.67) rotate(-89.9)" x="0" y="0" font-size="10.5" fill="#231f20" text-anchor="middle" textLength="95" lengthAdjust="spacingAndGlyphs">IL-10 mRNA fold change</text>
<rect x="321.05" y="677" width="18.4" height="70.6" fill="#a9002d"/>
<path d="M330.25 677V672.5M325.85 672.5H334.65" stroke="#000" stroke-width="1.3" fill="none"/>
<path d="M330.25 747.6V751.2" stroke="#000" stroke-width="1.2"/>
<text transform="translate(333.45 760.5) rotate(-45)" font-size="10.8" fill="#231f20" text-anchor="end" textLength="27" lengthAdjust="spacingAndGlyphs">DMSO</text>
<rect x="354.05" y="677.5" width="18.4" height="70.1" fill="#2c4a80"/>
<path d="M363.25 677.5V675.5M358.85 675.5H367.65" stroke="#000" stroke-width="1.3" fill="none"/>
<path d="M363.25 747.6V751.2" stroke="#000" stroke-width="1.2"/>
<text transform="translate(367.65 760.5) rotate(-45)" font-size="10.8" fill="#231f20" text-anchor="end" textLength="35.5" lengthAdjust="spacingAndGlyphs">Ibrutinib</text>
<rect x="387.05" y="710" width="18.4" height="37.6" fill="#6aaa3c"/>
<path d="M396.25 710V708M391.85 708H400.65" stroke="#000" stroke-width="1.3" fill="none"/>
<path d="M396.25 747.6V751.2" stroke="#000" stroke-width="1.2"/>
<text transform="translate(401.95 760.5) rotate(-45)" font-size="10.8" fill="#231f20" text-anchor="end" textLength="43" lengthAdjust="spacingAndGlyphs">Ulixertinib</text>
<rect x="420.05" y="717.5" width="18.4" height="30.1" fill="#522563"/>
<path d="M429.25 717.5V717M424.85 717H433.65" stroke="#000" stroke-width="1.3" fill="none"/>
<path d="M429.25 747.6V751.2" stroke="#000" stroke-width="1.2"/>
<text transform="translate(430.75 760.5) rotate(-45)" font-size="10.8" fill="#231f20" text-anchor="end" textLength="45.5" lengthAdjust="spacingAndGlyphs">Ibrutinib +</text>
<text transform="translate(436.95 767.9) rotate(-45)" font-size="10.8" fill="#231f20" text-anchor="end" textLength="43" lengthAdjust="spacingAndGlyphs">Ulixertinib</text>
<rect x="453.05" y="696.2" width="18.4" height="51.4" fill="#e08e18"/>
<path d="M462.25 696.2V695.1M457.85 695.1H466.65" stroke="#000" stroke-width="1.3" fill="none"/>
<path d="M462.25 747.6V751.2" stroke="#000" stroke-width="1.2"/>
<text transform="translate(465.45 761.3) rotate(-45)" font-size="10.8" fill="#231f20" text-anchor="end" textLength="43" lengthAdjust="spacingAndGlyphs">GDC-0994</text>
<rect x="486.05" y="728.8" width="18.4" height="18.8" fill="#386650"/>
<path d="M495.25 728.8V727.7M490.85 727.7H499.65" stroke="#000" stroke-width="1.3" fill="none"/>
<path d="M495.25 747.6V751.2" stroke="#000" stroke-width="1.2"/>
<text transform="translate(496.75 760.5) rotate(-45)" font-size="10.8" fill="#231f20" text-anchor="end" textLength="45.5" lengthAdjust="spacingAndGlyphs">Ibrutinib +</text>
<text transform="translate(502.95 767.9) rotate(-45)" font-size="10.8" fill="#231f20" text-anchor="end" textLength="43" lengthAdjust="spacingAndGlyphs">GDC-0994</text>
<path d="M330.5 662.5V635H423V651.3" stroke="#111" stroke-width="1.25" fill="none"/>
<path d="M353.25 651.3H507.5" stroke="#111" stroke-width="1.25" fill="none"/>
<text transform="translate(363.25 664.75) rotate(0.1)" font-size="9.6" fill="#231f20" text-anchor="middle" textLength="11" lengthAdjust="spacingAndGlyphs">NS</text>
<path d="M392.25 661.25L392.25 659.90M392.25 661.25L393.53 660.83M392.25 661.25L393.04 662.34M392.25 661.25L391.46 662.34M392.25 661.25L390.97 660.83" stroke="#231f20" stroke-width="1.15" stroke-linecap="round" fill="none"/>
<path d="M396.25 661.25L396.25 659.90M396.25 661.25L397.53 660.83M396.25 661.25L397.04 662.34M396.25 661.25L395.46 662.34M396.25 661.25L394.97 660.83" stroke="#231f20" stroke-width="1.15" stroke-linecap="round" fill="none"/>
<path d="M400.25 661.25L400.25 659.90M400.25 661.25L401.53 660.83M400.25 661.25L401.04 662.34M400.25 661.25L399.46 662.34M400.25 661.25L398.97 660.83" stroke="#231f20" stroke-width="1.15" stroke-linecap="round" fill="none"/>
<path d="M425.25 661.25L425.25 659.90M425.25 661.25L426.53 660.83M425.25 661.25L426.04 662.34M425.25 661.25L424.46 662.34M425.25 661.25L423.97 660.83" stroke="#231f20" stroke-width="1.15" stroke-linecap="round" fill="none"/>
<path d="M429.25 661.25L429.25 659.90M429.25 661.25L430.53 660.83M429.25 661.25L430.04 662.34M429.25 661.25L428.46 662.34M429.25 661.25L427.97 660.83" stroke="#231f20" stroke-width="1.15" stroke-linecap="round" fill="none"/>
<path d="M433.25 661.25L433.25 659.90M433.25 661.25L434.53 660.83M433.25 661.25L434.04 662.34M433.25 661.25L432.46 662.34M433.25 661.25L431.97 660.83" stroke="#231f20" stroke-width="1.15" stroke-linecap="round" fill="none"/>
<path d="M458.25 661.25L458.25 659.90M458.25 661.25L459.53 660.83M458.25 661.25L459.04 662.34M458.25 661.25L457.46 662.34M458.25 661.25L456.97 660.83" stroke="#231f20" stroke-width="1.15" stroke-linecap="round" fill="none"/>
<path d="M462.25 661.25L462.25 659.90M462.25 661.25L463.53 660.83M462.25 661.25L463.04 662.34M462.25 661.25L461.46 662.34M462.25 661.25L460.97 660.83" stroke="#231f20" stroke-width="1.15" stroke-linecap="round" fill="none"/>
<path d="M466.25 661.25L466.25 659.90M466.25 661.25L467.53 660.83M466.25 661.25L467.04 662.34M466.25 661.25L465.46 662.34M466.25 661.25L464.97 660.83" stroke="#231f20" stroke-width="1.15" stroke-linecap="round" fill="none"/>
<path d="M491.25 661.25L491.25 659.90M491.25 661.25L492.53 660.83M491.25 661.25L492.04 662.34M491.25 661.25L490.46 662.34M491.25 661.25L489.97 660.83" stroke="#231f20" stroke-width="1.15" stroke-linecap="round" fill="none"/>
<path d="M495.25 661.25L495.25 659.90M495.25 661.25L496.53 660.83M495.25 661.25L496.04 662.34M495.25 661.25L494.46 662.34M495.25 661.25L493.97 660.83" stroke="#231f20" stroke-width="1.15" stroke-linecap="round" fill="none"/>
<path d="M499.25 661.25L499.25 659.90M499.25 661.25L500.53 660.83M499.25 661.25L500.04 662.34M499.25 661.25L498.46 662.34M499.25 661.25L497.97 660.83" stroke="#231f20" stroke-width="1.15" stroke-linecap="round" fill="none"/>
</svg>
</body></html>
